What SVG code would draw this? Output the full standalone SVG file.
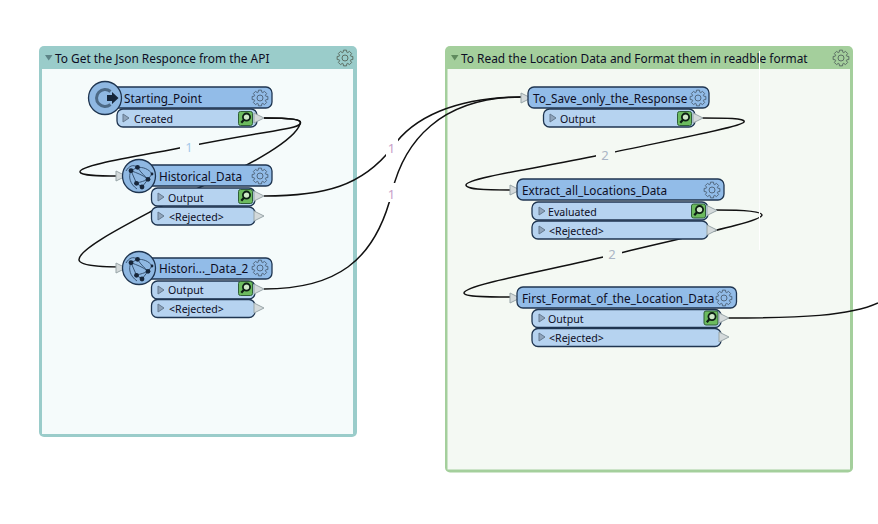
<svg xmlns="http://www.w3.org/2000/svg" xmlns:xlink="http://www.w3.org/1999/xlink" width="878" height="524" viewBox="0 0 878 524">
  <style>
    text { font-family: "Noto Sans", "Open Sans", "Liberation Sans", sans-serif; fill: #0d0d24; }
    .title { font-size: 11.9px; }
    .name { font-size: 11.75px; }
    .port { font-size: 10.6px; }
    .head { fill: #92bce8; stroke: #1f3550; stroke-width: 1.3; }
    .out { fill: #b6d3f0; stroke: #1f3550; stroke-width: 1.3; }
    .wire { fill: none; stroke: #111; stroke-width: 1.5; }
    .count { font-size: 13px; text-anchor: middle; }
    .gear { fill: none; stroke: #52687f; stroke-width: 1; stroke-linejoin: round; }
    .ggear { fill: none; stroke: #5c6f64; stroke-width: 1; stroke-linejoin: round; }
  </style>
  <defs>
    <g id="cog">
      <path d="M7.85-1.53 7.85 1.53 5.71 1.85 5.35 2.72 6.63 4.47 4.47 6.63 2.72 5.35 1.85 5.71 1.53 7.85-1.53 7.85-1.85 5.71-2.72 5.35-4.47 6.63-6.63 4.47-5.35 2.72-5.71 1.85-7.85 1.53-7.85-1.53-5.71-1.85-5.35-2.72-6.63-4.47-4.47-6.63-2.72-5.35-1.85-5.71-1.53-7.85 1.53-7.85 1.85-5.71 2.72-5.35 4.47-6.63 6.63-4.47 5.35-2.72 5.71-1.85Z"/>
      <circle r="3"/>
    </g>
    <g id="inspect">
      <rect x="0" y="0" width="14" height="14" rx="2" fill="#6cbb5e" stroke="#2f5f38" stroke-width="1"/>
      <circle cx="8" cy="5.6" r="3.6" fill="#cfe8c8" stroke="#0d1f14" stroke-width="1.8"/>
      <path d="M5.6 8 2.8 11.2" stroke="#0d1f14" stroke-width="2.2" fill="none"/>
    </g>
    <path id="tip" d="M0-5 10 0 0 5Z" fill="#d4dadb" stroke="#98a5a8" stroke-width="1"/>
    <path id="expander" d="M0-4 6 0 0 4Z" fill="#90a5bc" stroke="#64798f" stroke-width="1"/>
    <g id="netglobe">
      <circle r="16.500" fill="#8fb8e2" stroke="#1f3550" stroke-width="1.3"/>
      <g fill="none" stroke="#2f4a68" stroke-width="0.9">
        <path d="M-1.500-8.700C4-9 10-7 13-2M-1.500-8.700-8-5.300-2.500 7.300 3 11 9 3.300 13-2M-8-5.300C-2-3 4-1 9 3.300M-1.500-8.700C2-3 6 0 9 3.300M-2.500 7.300C1 6 6 5 9 3.300M-8-5.300C-11 1-9 8-2 13M-1.500-8.700C-6-12-10-10-13-5"/>
      </g>
      <g fill="#17263a">
        <circle cx="-1.500" cy="-8.700" r="2.400"/>
        <circle cx="-8" cy="-5.300" r="2.400"/>
        <circle cx="-2.500" cy="7.300" r="2.400"/>
        <circle cx="3" cy="11" r="2.400"/>
        <circle cx="9" cy="3.300" r="2.400"/>
        <circle cx="13" cy="-2" r="1.400"/>
      </g>
    </g>
  </defs>

  <rect width="878" height="524" fill="#ffffff"/>

  <!-- bookmarks -->
  <g id="bookmark-api">
    <rect x="39" y="46" width="318" height="391" rx="5" fill="#9accca"/>
    <rect x="42" y="69" width="311" height="365" fill="#f5fbfb"/>
    <path d="M45 55H52.500L48.700 60.500Z" fill="#5d8487"/>
    <text class="title" x="55" y="63">To Get the Json Responce from the API</text>
    <use xlink:href="#cog" href="#cog" class="ggear" x="345" y="58"/>
  </g>
  <g id="bookmark-location">
    <rect x="445" y="46" width="408" height="426.500" rx="5" fill="#a4cf9c"/>
    <rect x="447.500" y="69" width="402.500" height="400.500" fill="#f4f9f3"/>
    <path d="M451 55H458.500L454.700 60.500Z" fill="#5f8a5d"/>
    <text class="title" x="461" y="63">To Read the Location Data and Format them in readble format</text>
    <use xlink:href="#cog" href="#cog" class="ggear" x="841" y="58"/>
  </g>

  <!-- connectors, under the nodes -->
  <g id="connectors">
    <path class="wire" d="M264 118C290 118 303 119 300 124C297 129 265 131 190 146C140 156 79 165 80 172C81 176 100 176 119 176"/>
    <path class="wire" d="M264 118C290 118 303 119 300 124C295 140 250 165 215 180C190 192 165 204 152 211C120 228 78 250 79 260C80 267 110 267 127 267"/>
    <path class="wire" d="M264 196C325 196 362 186 392 148C412 118 455 97 522 97"/>
    <path class="wire" d="M264 289C335 289 375 262 392 192C404 142 440 97 522 97"/>
    <path class="wire" d="M702 118C725 118 746 118 744 122C742 127 660 142 605 154C550 166 466 178 466 185C466 190 490 190 510 190"/>
    <path class="wire" d="M716 210C740 210 762 211 762 215C762 222 680 238 612 255C550 270 464 285 464 293C464 297 490 297 510 297"/>
    <path class="wire" d="M728 318C800 318 850 316 878 303"/>
    <rect x="180" y="139" width="19" height="16" fill="#f5fbfb"/>
    <rect x="386" y="137" width="12" height="21" fill="#ffffff"/>
    <rect x="385" y="183" width="13" height="19" fill="#ffffff"/>
    <rect x="596" y="146" width="19" height="16" fill="#f4f9f3"/>
    <rect x="603" y="246" width="19" height="16" fill="#f4f9f3"/>
    <text class="count" x="189" y="152" style="fill:#a6c9ea">1</text>
    <text class="count" x="391.500" y="153" style="fill:#c79fc9">1</text>
    <text class="count" x="391.500" y="199" style="fill:#c79fc9">1</text>
    <text class="count" x="605" y="159.500" style="fill:#aab5c5">2</text>
    <text class="count" x="612" y="259" style="fill:#aab5c5">2</text>
  </g>

  <!-- transformers -->
  <g id="starting-point">
    <rect class="head" x="100" y="87" width="172" height="21" rx="6"/>
    <rect class="out" x="117" y="109" width="140" height="18" rx="6"/>
    <use xlink:href="#expander" href="#expander" x="123" y="118"/>
    <text class="port" x="134" y="122.500">Created</text>
    <use xlink:href="#inspect" href="#inspect" x="238.500" y="111.500"/>
    <use xlink:href="#tip" href="#tip" x="254" y="118"/>
    <circle cx="105" cy="98" r="16.500" fill="#8fb8e2" stroke="#1f3550" stroke-width="1.3"/>
    <path d="M110.500 91.500A8.500 8.500 0 1 0 110.500 104.500" fill="none" stroke="#4d6a86" stroke-width="3"/>
    <path d="M107 95H112V92L118.500 98 112 104V101H107Z" fill="#16263a"/>
    <text class="name" x="124" y="103">Starting_Point</text>
    <use xlink:href="#cog" href="#cog" class="gear" x="260" y="98"/>
  </g>

  <g id="historical-data">
    <use xlink:href="#tip" href="#tip" x="116" y="176"/>
    <rect class="head" x="135" y="165" width="137" height="21" rx="6"/>
    <rect class="out" x="151.500" y="188" width="103.500" height="18" rx="6"/>
    <use xlink:href="#expander" href="#expander" x="158" y="197"/>
    <text class="port" x="168" y="201.500">Output</text>
    <use xlink:href="#inspect" href="#inspect" x="238.500" y="189.500"/>
    <use xlink:href="#tip" href="#tip" x="254" y="196"/>
    <rect class="out" x="151.500" y="207" width="103.500" height="18" rx="6"/>
    <use xlink:href="#expander" href="#expander" x="158" y="216"/>
    <text class="port" x="169" y="220.500">&lt;Rejected&gt;</text>
    <use xlink:href="#tip" href="#tip" x="254" y="216"/>
    <use xlink:href="#netglobe" href="#netglobe" x="139" y="176"/>
    <text class="name" x="159" y="181">Historical_Data</text>
    <use xlink:href="#cog" href="#cog" class="gear" x="260" y="176"/>
  </g>

  <g id="historical-data-2">
    <use xlink:href="#tip" href="#tip" x="116" y="268"/>
    <rect class="head" x="135" y="258" width="137" height="21" rx="6"/>
    <rect class="out" x="151.500" y="281" width="103.500" height="18" rx="6"/>
    <use xlink:href="#expander" href="#expander" x="158" y="290"/>
    <text class="port" x="168" y="293.500">Output</text>
    <use xlink:href="#inspect" href="#inspect" x="238.500" y="281.500"/>
    <use xlink:href="#tip" href="#tip" x="254" y="289"/>
    <rect class="out" x="151.500" y="299.500" width="103.500" height="18" rx="6"/>
    <use xlink:href="#expander" href="#expander" x="158" y="308"/>
    <text class="port" x="169" y="312.500">&lt;Rejected&gt;</text>
    <use xlink:href="#tip" href="#tip" x="254" y="308"/>
    <use xlink:href="#netglobe" href="#netglobe" x="139" y="268"/>
    <text class="name" x="159" y="273">Histori..._Data_2</text>
    <use xlink:href="#cog" href="#cog" class="gear" x="260" y="268"/>
  </g>

  <g id="to-save-response">
    <use xlink:href="#tip" href="#tip" x="521" y="98"/>
    <rect class="head" x="528" y="87" width="181" height="21" rx="6"/>
    <rect class="out" x="543.500" y="109" width="151.500" height="18" rx="6"/>
    <use xlink:href="#expander" href="#expander" x="550" y="118"/>
    <text class="port" x="560" y="122.500">Output</text>
    <use xlink:href="#inspect" href="#inspect" x="677.500" y="111.500"/>
    <use xlink:href="#tip" href="#tip" x="693" y="118"/>
    <text class="name" x="533" y="103">To_Save_only_the_Response</text>
    <use xlink:href="#cog" href="#cog" class="gear" x="698" y="98"/>
  </g>

  <g id="extract-locations">
    <use xlink:href="#tip" href="#tip" x="510" y="190"/>
    <rect class="head" x="517" y="179" width="207" height="21" rx="6"/>
    <rect class="out" x="532" y="202" width="176" height="18" rx="6"/>
    <use xlink:href="#expander" href="#expander" x="539" y="211"/>
    <text class="port" x="548" y="215.500">Evaluated</text>
    <use xlink:href="#inspect" href="#inspect" x="691.500" y="204"/>
    <use xlink:href="#tip" href="#tip" x="707" y="210.500"/>
    <rect class="out" x="532" y="221" width="176" height="18" rx="6"/>
    <use xlink:href="#expander" href="#expander" x="539" y="230"/>
    <text class="port" x="549" y="234.500">&lt;Rejected&gt;</text>
    <use xlink:href="#tip" href="#tip" x="707" y="230"/>
    <text class="name" x="522" y="195">Extract_all_Locations_Data</text>
    <use xlink:href="#cog" href="#cog" class="gear" x="712" y="190"/>
  </g>

  <g id="first-format">
    <use xlink:href="#tip" href="#tip" x="510" y="298"/>
    <rect class="head" x="517" y="287" width="219.500" height="21" rx="6"/>
    <rect class="out" x="532" y="309.500" width="189" height="18" rx="6"/>
    <use xlink:href="#expander" href="#expander" x="539" y="318"/>
    <text class="port" x="548" y="322.500">Output</text>
    <use xlink:href="#inspect" href="#inspect" x="704" y="311"/>
    <use xlink:href="#tip" href="#tip" x="719" y="318"/>
    <rect class="out" x="532" y="328.500" width="189" height="18" rx="6"/>
    <use xlink:href="#expander" href="#expander" x="539" y="337"/>
    <text class="port" x="549" y="341.500">&lt;Rejected&gt;</text>
    <use xlink:href="#tip" href="#tip" x="719" y="337"/>
    <text class="name" x="522" y="303">First_Format_of_the_Location_Data</text>
    <use xlink:href="#cog" href="#cog" class="gear" x="724" y="298"/>
  </g>

  <!-- thin seam across the second bookmark -->
  <path d="M759.500 51V250" stroke="#ffffff" stroke-width="1" fill="none"/>
</svg>
